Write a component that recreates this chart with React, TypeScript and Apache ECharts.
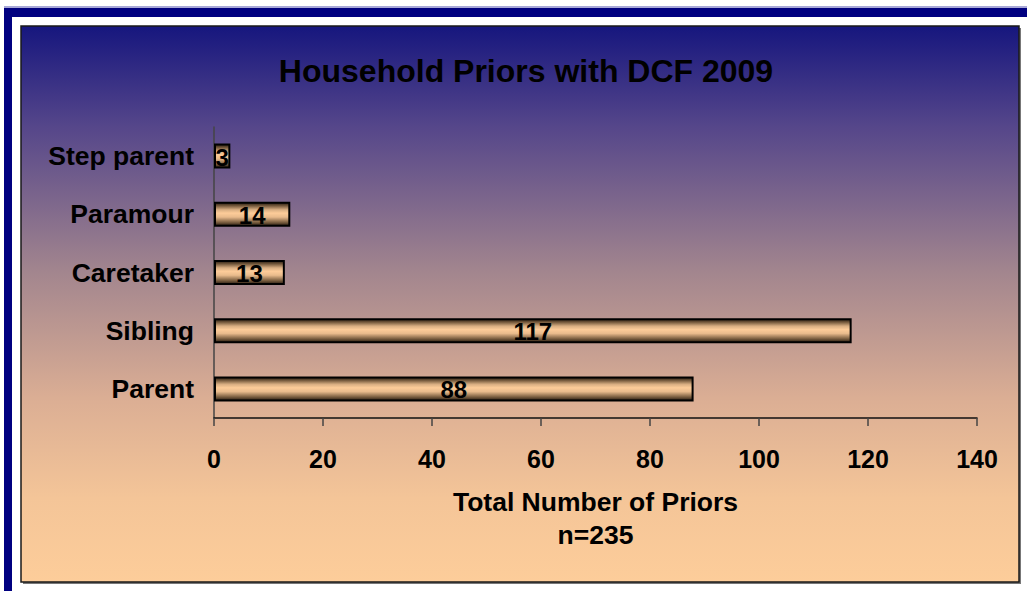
import React, { useEffect, useRef } from "react";
import * as echarts from "echarts";

const categories = ["Parent", "Sibling", "Caretaker", "Paramour", "Step parent"];
const priors = [88, 117, 13, 14, 3];
const titleText = "Household Priors with DCF 2009";
const axisTitle = "Total Number of Priors\nn=235";

const FONT = "'Liberation Sans', Arial, sans-serif";

export default function App() {
  const ref = useRef<HTMLDivElement>(null);
  useEffect(() => {
    if (!ref.current) return;
    const chart = echarts.init(ref.current, undefined, { renderer: "svg" });
    const barGrad = new echarts.graphic.LinearGradient(0, 0, 0, 1, [
      { offset: 0, color: "#2a1e12" },
      { offset: 0.12, color: "#6e5438" },
      { offset: 0.3, color: "#d8ae82" },
      { offset: 0.45, color: "#fdcc99" },
      { offset: 0.62, color: "#e9bb8c" },
      { offset: 0.85, color: "#7a5e40" },
      { offset: 1, color: "#2a1e12" },
    ]);
    const panelGrad = new echarts.graphic.LinearGradient(0, 0, 0, 1, [
      { offset: 0, color: "#16167e" },
      { offset: 0.18, color: "#55468a" },
      { offset: 0.44, color: "#a2858e" },
      { offset: 0.67, color: "#dbae94" },
      { offset: 0.85, color: "#f4c598" },
      { offset: 1, color: "#fdcd9a" },
    ]);
    chart.setOption({
      animation: false,
      backgroundColor: "#ffffff",
      graphic: [
        { type: "rect", z: -10, shape: { x: 4, y: 6, width: 1023, height: 2 }, style: { fill: "#a8a8d8" } },
        { type: "rect", z: -10, shape: { x: 4, y: 8, width: 1023, height: 9 }, style: { fill: "#000080" } },
        { type: "rect", z: -10, shape: { x: 4, y: 8, width: 8, height: 583 }, style: { fill: "#000080" } },
        { type: "rect", z: -10, shape: { x: 23, y: 28, width: 998, height: 556 }, style: { fill: "#777777" } },
        {
          type: "rect",
          z: -9,
          shape: { x: 21, y: 26, width: 998, height: 556 },
          style: { fill: panelGrad, stroke: "#1a1a1a", lineWidth: 1.5 },
        },
      ],
      title: {
        text: titleText,
        left: 521,
        textAlign: "center",
        top: 50,
        textStyle: { fontFamily: FONT, fontSize: 32, fontWeight: "bold", color: "#000000" },
      },
      grid: { left: 214, right: 50, top: 127, bottom: 173 },
      xAxis: {
        type: "value",
        min: 0,
        max: 140,
        interval: 20,
        name: axisTitle,
        nameLocation: "middle",
        nameGap: 67,
        nameTextStyle: {
          fontFamily: FONT,
          fontSize: 26.5,
          fontWeight: "bold",
          color: "#000000",
          lineHeight: 33,
        },
        axisLine: { show: true, lineStyle: { color: "#111111", width: 1.5 } },
        axisTick: { show: true, length: 8, lineStyle: { color: "#444444", width: 1.5 } },
        splitLine: { show: false },
        axisLabel: {
          margin: 28,
          fontFamily: FONT,
          fontSize: 25,
          fontWeight: "bold",
          color: "#000000",
        },
      },
      yAxis: {
        type: "category",
        data: categories,
        axisLine: { show: true, lineStyle: { color: "#444444", width: 1.5 } },
        axisTick: { show: false },
        axisLabel: {
          margin: 20,
          fontFamily: FONT,
          fontSize: 26.5,
          fontWeight: "bold",
          color: "#000000",
        },
      },
      series: [
        {
          type: "bar",
          data: priors,
          barWidth: "43%",
          itemStyle: { color: barGrad, borderColor: "#000000", borderWidth: 2 },
          label: {
            show: true,
            position: "inside",
            offset: [0, 1],
            fontFamily: FONT,
            fontSize: 24,
            fontWeight: "bold",
            color: "#000000",
          },
        },
      ],
    });
    return () => chart.dispose();
  }, []);
  return (
    <div
      ref={ref}
      style={{ position: "absolute", left: 0, top: 0, width: 1027, height: 591 }}
    />
  );
}
